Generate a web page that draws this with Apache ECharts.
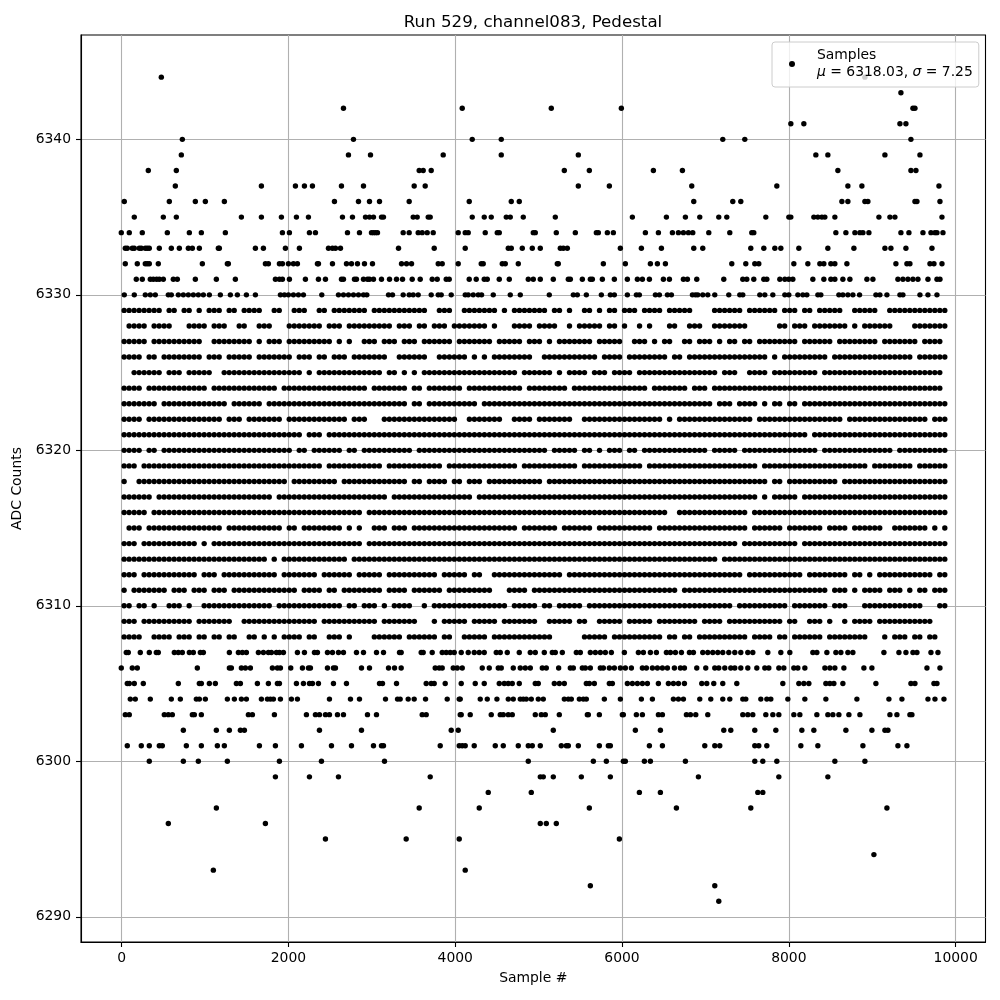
<!DOCTYPE html>
<html><head><meta charset="utf-8">
<script src="https://cdn.jsdelivr.net/npm/echarts@6/dist/echarts.min.js"></script>
<style>html,body{margin:0;padding:0;background:#fff}#c{width:1000px;height:1000px}</style>
</head><body><div id="c"></div>
<script>
// Sample numbers, one list per ADC code.
const r6344=[476,8912];
const r6343=[9344];
const r6342=[2660,4084,5152,5992,9488,9512];
const r6341=[8024,8180,9332,9404];
const r6340=[728,2780,4204,4552,7208,7472,9464];
const r6339=[716,2720,2984,3856,4552,5476,8324,8468,9152,9572];
const r6338=[320,656,3568,3616,3712,5308,5608,6376,6724,8588,9464,9524];
const r6337=[644,1676,2084,2192,2288,2636,2900,3508,3640,5476,5848,6836,7856,8708,8876,9800];
const r6336=[32,572,884,1004,1232,2552,2840,2972,3092,3448,4168,4672,4768,6860,7328,7424,8636,8708,8912,8948,9512,9536,9812];
const r6335=[152,500,656,1436,1676,1916,2096,2240,2648,2768,2924,2972,3020,3116,3140,3496,3544,3676,3700,4204,4348,4432,4612,4660,4816,5200,6124,6532,6760,6932,7160,7256,7724,8000,8024,8300,8348,8396,8432,8552,9080,9212,9272,9836];
const r6334=[-4,92,248,548,812,956,1244,1928,2012,2252,2324,2708,2852,2996,3020,3044,3068,3376,3448,3556,3604,3664,3736,4036,4120,4156,4360,4504,4528,4936,4960,5212,5440,5692,5716,5824,5896,6280,6436,6604,6676,6736,6796,6848,7040,7292,7556,7580,8564,8684,8792,8852,8888,8960,9344,9440,9608,9704,9752,9776,9848];
const r6333=[44,68,128,152,212,236,284,308,332,452,596,692,800,848,932,1160,1172,1604,1700,1964,2132,2480,2528,2564,2624,3320,3748,4120,4636,4672,4804,4924,5020,5260,5296,5344,5980,6232,6472,6860,6968,7544,7700,7832,7904,8120,8468,8780,9152,9224,9404,9716];
const r6332=[44,188,284,308,332,440,968,1268,1280,1724,1760,1892,1928,2000,2060,2108,2348,2360,2528,2696,2756,2828,2912,3008,3356,3416,3476,3796,3844,4036,4312,4336,4564,4600,4756,5224,5236,5776,6040,6340,6424,6520,7316,7484,7592,7640,8060,8228,8372,8420,8504,8552,8696,9284,9416,9452,9692,9740,9836];
const r6331=[176,248,344,380,420,452,500,620,668,884,1136,1364,1844,1892,1928,2012,2204,2360,2444,2636,2660,2792,2816,2900,2948,2972,3020,3116,3212,3296,3368,3484,3580,3724,3784,3892,3928,4168,4252,4348,4384,4528,4648,4876,4936,5020,5176,5356,5380,5524,5620,5644,5764,5908,6064,6184,6244,6328,6496,6568,6736,6784,6896,7220,7448,7496,7580,7700,7736,7892,7952,8000,8048,8288,8420,8504,8552,8648,8732,8936,9008,9308,9368,9428,9488,9548,9668,9776,9812];
const r6330=[32,152,284,344,404,560,596,680,740,800,860,920,980,1052,1184,1304,1388,1496,1604,1904,1952,2000,2060,2120,2180,2400,2600,2660,2720,2780,2840,2900,2940,3200,3248,3376,3448,3496,3556,3712,3796,3832,3952,4120,4156,4216,4276,4316,4456,4660,4780,5128,5416,5464,5572,5752,5860,5908,6064,6172,6208,6400,6448,6544,6592,6844,6880,6908,6968,7028,7112,7280,7412,7448,7652,7712,7808,7952,8000,8108,8168,8216,8348,8384,8600,8648,8708,8768,8848,9044,9092,9176,9332,9368,9572,9668,9776];
const r6307=[56,80,224,332,416,440,632,680,728,812,860,944,980,1292,1400,1448,1496,1640,1700,1760,1796,1856,1892,1940,2108,2192,2312,2348,2468,2528,2600,2660,2816,2900,3056,3140,3332,3352,3592,3616,3724,3844,3892,3940,3988,4072,4156,4228,4288,4348,4492,4540,4624,4768,4900,4960,5068,5164,5200,5284,5452,5500,5620,5680,5740,5800,5872,6028,6196,6256,6340,6412,6532,6580,6640,6712,6808,6856,6968,7028,7088,7148,7208,7280,7352,7424,7508,7568,7748,7904,8012,8288,8336,8456,8564,8624,8708,8768,9140,9320,9404,9488,9536,9704,9788];
const r6306=[-4,128,188,908,1292,1316,1436,1484,1544,1808,1868,1904,2028,2168,2240,2264,2468,2540,2564,2876,2972,3200,3272,3352,3760,3808,3844,3976,4024,4084,4324,4408,4516,4552,4696,4780,4840,4900,5044,5092,5240,5380,5416,5524,5560,5620,5740,5776,5848,5908,5980,6040,6112,6244,6292,6364,6424,6484,6544,6628,6700,6748,6896,7004,7112,7160,7232,7304,7352,7424,7508,7616,7712,7760,7880,7940,8060,8108,8192,8432,8492,8552,8660,8900,8996,9656,9812];
const r6305=[68,92,152,260,680,932,956,1052,1124,1376,1424,1628,1760,1868,1892,2096,2180,2252,2288,2360,2540,2696,3092,3128,3296,3652,3712,3748,3880,4072,4240,4348,4528,4588,4636,4684,4768,4960,4996,5188,5248,5308,5572,5608,5668,5848,5884,6064,6124,6184,6244,6304,6436,6556,6616,6676,6748,6956,7016,7100,7208,7376,7928,8120,8180,8240,8444,8492,8540,8648,9044,9464,9512,9740,9776];
const r6304=[104,164,344,596,704,896,932,1004,1268,1352,1436,1496,1676,1748,1784,1820,1904,2036,2108,2492,2744,2852,3164,3308,3340,3436,3508,3644,3904,4048,4060,4300,4384,4500,4636,4696,4780,4816,4852,4912,4996,5056,5308,5356,5392,5488,5536,5572,5788,5980,6232,6364,6616,6676,6736,6932,7064,7208,7292,7448,7484,7664,7736,7784,7988,8192,8444,8816,9200,9356,9668,9752,9860];
const r6303=[44,92,512,560,608,848,872,956,1520,1568,1832,2216,2324,2372,2444,2492,2588,2660,2948,3056,3604,3652,4060,4072,4180,4432,4540,4576,4636,4684,4960,5032,5080,5248,5584,5596,5728,6004,6016,6172,6244,6436,6484,6772,6820,6884,7028,7448,7508,7568,7724,7808,7880,8060,8132,8336,8468,8528,8600,8720,8852,9212,9296,9452,9476];
const r6302=[740,1136,1292,1424,1472,2372,2876,3952,4036,5176,6160,6460,7220,7304,7592,7844,8156,8300,8684,8996,9152,9188];
const r6301=[68,236,332,452,488,776,956,1148,1232,1652,1844,2156,2516,2756,3020,3116,3140,3820,4048,4084,4120,4228,4480,4576,4756,4876,4924,5020,5272,5332,5356,5476,5728,5836,5860,6328,6484,6992,7112,7172,7592,7640,7736,8144,8348,8888,9308,9416];
const r6300=[332,740,920,1268,1892,2396,3152,4876,5656,5812,6016,6040,6268,6340,6760,7592,7688,7856,8552,8912];
const r6299=[1844,2252,2600,3700,5020,5056,5176,5512,5860,6916,7880,8468];
const r6298=[4396,4912,6208,6460,7628,7688];
const r6297=[1136,3568,4288,5608,6652,7544,9176];
const r6296=[560,1724,5020,5092,5212];
const r6295=[2444,3412,4048,5968];
const r6294=[9020];
const r6293=[1100,4120];
const r6292=[5620,7112];
const r6291=[7160];

// Occupancy: three stretches of the sample axis, 60 samples per character.
const d6329="########.##.##.#.###.##.####..##..###..##.#######.###### #####..###..#######.#.#######.##.#..##.#.##.###.####.#####.. ..######.######.###.##.#####..#####..############";
const d6328=".####.####...####.###..##..###...#######.###.#########.# ##.##.###.#######.#...####.####..#.#####.##.#..#.#...##..### ..#######......##.###.#######.#.######....#######";
const d6327="#####.##########..########.#.###.#########.#.#..###.### ###.######.#######.#####.###.#.#######.#####..###.#.##..##.## ##.#.##.##.########.######.########.#######.####.";
const d6326="####.##.########.###.#####.#######.###.##.###.#######..## #####..######.#.#.########..###########.####.########.##.### #############.#.#########.################.######";
const d6325="..######.###.#####..################.#.#############.## #.#.###################.######.#.####.###.####.#############. ###.###..####.#########.########################.";
const d6324="####.############.#############.#################.####### #.##.#######.###########.########.###############.#######.## #.##############################################.";
const d6323="#######.#############.######.############################ #.##.##########.############################################ ##.###.####.#.##.##.#############################";
const d6322="####.###############.###.#######.############.###...##### ###########..#######..####.#######..################.#.##### ##########.#################.################.###";
const d6321="####################################.###.############### ############################################################ #####################.###########################";
const d6320="####.##.##########################.##.######.##.######## ##.##########################.#####.##.#.###.##.############ #.#####.###############.##############.##########";
const d6319="###.####################################.###########.#### ########.##############.###########.############.########### ###########.#####################.########.######";
const d6318="#..##############################.#########.############# #.##.####.##.###.###########.############################### #############.##.##########.#####################";
const d6317="######.#######################.######################.### ##############.############################################# ###########.#.#####.#############################";
const d6316="#####.##########################################.####### #####################################################..##### #########.#######################################";
const d6315=".###.###############.###########.##.########.#.#..###.### #.#####################.#######.######.###########.######### #########.######.#######.####.######..#######.#.#";
const d6314="###.###########.#.##############################.######### ############################################################ #######.###########.#############################";
const d6313="#############################.#.#############.########## ############################################################ ###.#############################################";
const d6312="###.###########.###.###########.#######.######.#####.#### #######.#####.##..##############.########################### ########.###########.########.##.#.###########.##";
const d6311="#.#######.###.###.###.#############.####.##.########.#### #.######.#########...####.#############################.#### #########################.###.#.####.###.#.##.###";
const d6310="##.##.#..###.#..##############.#############.##.###.#.#### ##..#.###############.#####.##.#####.####################### ######.##########.#######.###...############...##";
const d6309="###.##########.#######..###############.###########.##### ###...#.#####.#####.#######..#####.##..#####.#####.########. ####.###########.##..###.#..#.####.###########...";
const d6308="####..####.###.##.##.##..##.#.#.####.##..###.#....###### .######.##..#####.############......#####.##########.##.##.# #########.####.##.######.########...#.###.##.##..";

const sparseRows=[[6344,r6344],[6343,r6343],[6342,r6342],[6341,r6341],[6340,r6340],[6339,r6339],[6338,r6338],[6337,r6337],[6336,r6336],[6335,r6335],[6334,r6334],[6333,r6333],[6332,r6332],[6331,r6331],[6330,r6330],[6307,r6307],[6306,r6306],[6305,r6305],[6304,r6304],[6303,r6303],[6302,r6302],[6301,r6301],[6300,r6300],[6299,r6299],[6298,r6298],[6297,r6297],[6296,r6296],[6295,r6295],[6294,r6294],[6293,r6293],[6292,r6292],[6291,r6291]];
const denseRows=[[6329,d6329],[6328,d6328],[6327,d6327],[6326,d6326],[6325,d6325],[6324,d6324],[6323,d6323],[6322,d6322],[6321,d6321],[6320,d6320],[6319,d6319],[6318,d6318],[6317,d6317],[6316,d6316],[6315,d6315],[6314,d6314],[6313,d6313],[6312,d6312],[6311,d6311],[6310,d6310],[6309,d6309],[6308,d6308]];
const xTicks=[0,2000,4000,6000,8000,10000];
const yTicks=[6290,6300,6310,6320,6330,6340];
const titleText="Run 529, channel083, Pedestal";
const xName="Sample #";
const yName="ADC Counts";

const points=[];
sparseRows.forEach(([v,list])=>list.forEach(s=>points.push([s,v])));
const stretchStart=[0,56,116], stretchLen=[56,60,49];
denseRows.forEach(([v,str])=>{
  str.split(' ').forEach((seg,k)=>{
    for(let i=0;i<Math.min(seg.length,stretchLen[k]);i++){
      if(seg[i]==='#')points.push([(stretchStart[k]+i)*60+30,v]);
    }
  });
});

const FONT='"DejaVu Sans"';
const axisCommon={
  axisLine:{onZero:false,lineStyle:{color:'#000',width:1.1}},
  axisTick:{show:true,length:5,lineStyle:{color:'#000',width:1.1}},
  splitLine:{show:true,lineStyle:{color:'#b0b0b0',width:1.1}},
  nameLocation:'middle',
  nameTextStyle:{fontFamily:FONT,fontSize:13.9,color:'#000'}
};
const chart=echarts.init(document.getElementById('c'),null,{renderer:'canvas'});
chart.setOption({
  animation:false,
  backgroundColor:'#fff',
  title:{text:titleText,left:528,top:9,textAlign:'center',textStyle:{fontFamily:FONT,fontSize:16.67,fontWeight:'normal',color:'#000'}},
  grid:{left:81,top:35,width:904.5,height:907,show:true,borderColor:'#000',borderWidth:1.1,backgroundColor:'transparent'},
  xAxis:Object.assign({},axisCommon,{type:'value',min:-487,max:10358,name:xName,nameGap:29,
    axisTick:Object.assign({},axisCommon.axisTick,{customValues:xTicks}),
    axisLabel:{customValues:xTicks,margin:9,fontFamily:FONT,fontSize:13.9,color:'#000',formatter:v=>String(v)}}),
  yAxis:Object.assign({},axisCommon,{type:'value',min:6288.38,max:6346.71,name:yName,nameGap:55,
    axisTick:Object.assign({},axisCommon.axisTick,{customValues:yTicks}),
    axisLabel:{customValues:yTicks,margin:10,fontFamily:FONT,fontSize:13.9,color:'#000',formatter:v=>String(v)}}),
  legend:{
    show:true,left:772,top:42,orient:'vertical',z:10,selectedMode:false,
    data:[{name:'Samples',icon:'circle'}],
    itemWidth:6,itemHeight:6,padding:[5,6,6,17],
    backgroundColor:'rgba(255,255,255,0.8)',borderColor:'#ccc',borderWidth:1,borderRadius:3,
    formatter:()=>'Samples\n{i|\u03bc} = 6318.03, {i|\u03c3} = 7.25',
    textStyle:{fontFamily:FONT,fontSize:13.9,color:'#000',padding:[0,0,0,17],lineHeight:17,
      rich:{i:{fontFamily:FONT,fontStyle:'italic',fontSize:13.9,color:'#000'}}}
  },
  series:[{name:'Samples',type:'scatter',data:points,symbol:'circle',symbolSize:5.4,
    itemStyle:{color:'#000',opacity:1},silent:true,large:false,progressive:0,z:5}]
});
</script></body></html>
